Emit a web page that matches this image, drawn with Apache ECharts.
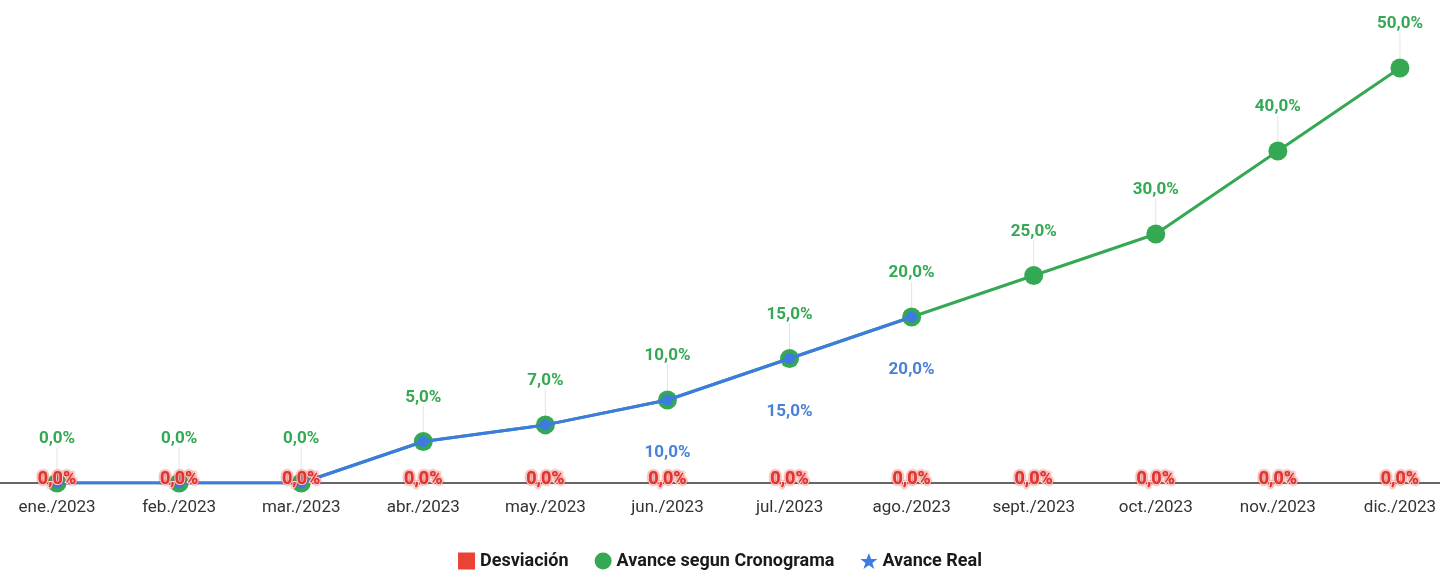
<!DOCTYPE html>
<html>
<head>
<meta charset="utf-8">
<script src="https://cdn.jsdelivr.net/npm/echarts@6/dist/echarts.min.js"></script>
<style>
  html, body { margin: 0; padding: 0; background: #fff; }
  #chart { width: 1440px; height: 573px; }
</style>
</head>
<body>
<div id="chart"></div>
<script>
// datos del grafico
const months = ['ene./2023', 'feb./2023', 'mar./2023', 'abr./2023', 'may./2023', 'jun./2023',
  'jul./2023', 'ago./2023', 'sept./2023', 'oct./2023', 'nov./2023', 'dic./2023'];
const desviacion = [0, 0, 0, 0, 0, 0, 0, 0, 0, 0, 0, 0];
const cronograma = [0, 0, 0, 5, 7, 10, 15, 20, 25, 30, 40, 50];
const real = [0, 0, 0, 5, 7, 10, 15, 20, null, null, null, null];
// etiquetas de avance real que se ven (las primeras quedan tapadas)
const realLabelShown = [false, false, false, false, false, true, true, true, false, false, false, false];

const FONT = 'Roboto, sans-serif';
const STAR = 'path://M12,1 L15,9 L23,9 L16.5,14 L19,22 L12,17 L5,22 L7.5,14 L1,9 L9,9 Z';
const pct = v => v.toFixed(1).replace('.', ',') + '%';

const chart = echarts.init(document.getElementById('chart'));

chart.setOption({
  animation: false,
  textStyle: { fontFamily: FONT },
  grid: { left: -4, right: -21, top: 68, bottom: 90, outerBoundsMode: 'none' },
  legend: {
    bottom: -2,
    left: 'center',
    itemWidth: 17,
    itemHeight: 17,
    itemGap: 26,
    textStyle: { fontSize: 18, color: '#1a1a1a', fontWeight: 'bold', fontFamily: FONT },
    data: [
      { name: 'Desviación', icon: 'rect', itemStyle: { color: '#ea4335' } },
      { name: 'Avance segun Cronograma', icon: 'circle' },
      { name: 'Avance Real', icon: STAR }
    ]
  },
  xAxis: {
    type: 'category',
    data: months,
    boundaryGap: true,
    axisLine: { lineStyle: { color: '#666', width: 2 } },
    axisTick: { show: false },
    axisLabel: { color: '#333', fontSize: 17, margin: 16, interval: 0, fontFamily: FONT }
  },
  yAxis: {
    type: 'value',
    min: 0,
    max: 50,
    show: false,
    splitLine: { show: false }
  },
  series: [
    {
      name: 'Avance segun Cronograma',
      type: 'line',
      data: cronograma,
      z: 2,
      symbol: 'circle',
      symbolSize: 19,
      itemStyle: { color: '#34a853' },
      lineStyle: { color: '#34a853', width: 3 },
      label: {
        show: true,
        position: 'top',
        distance: 26,
        color: '#34a853',
        fontSize: 17,
        fontWeight: 'bold',
        fontFamily: FONT,
        formatter: p => pct(p.value)
      },
      labelLine: { show: true, lineStyle: { color: '#e4e4e4', width: 1 } },
      labelLayout: { dy: 0 }
    },
    {
      name: 'Avance Real',
      type: 'line',
      data: real.map((v, i) => ({ value: v, label: { show: realLabelShown[i] } })),
      z: 3,
      symbol: 'circle',
      symbolSize: 11,
      itemStyle: { color: '#3d7be0' },
      lineStyle: { color: '#3d7be0', width: 3 },
      label: {
        show: true,
        position: 'bottom',
        distance: 39,
        color: '#4a80d6',
        fontSize: 17,
        fontWeight: 'bold',
        fontFamily: FONT,
        formatter: p => pct(p.value)
      }
    },
    {
      name: 'Desviación',
      type: 'line',
      data: desviacion,
      z: 5,
      symbol: 'rect',
      symbolSize: 1,
      itemStyle: { color: 'rgba(0,0,0,0)' },
      lineStyle: { width: 0, color: 'rgba(0,0,0,0)' },
      label: {
        show: true,
        position: 'inside',
        offset: [0, -4],
        color: '#e0352f',
        textBorderColor: '#fff',
        textBorderWidth: 2,
        textShadowColor: '#e0352f',
        textShadowBlur: 2,
        fontSize: 18,
        fontWeight: 'bold',
        fontFamily: FONT,
        formatter: p => pct(p.value)
      }
    }
  ]
});
</script>
</body>
</html>
